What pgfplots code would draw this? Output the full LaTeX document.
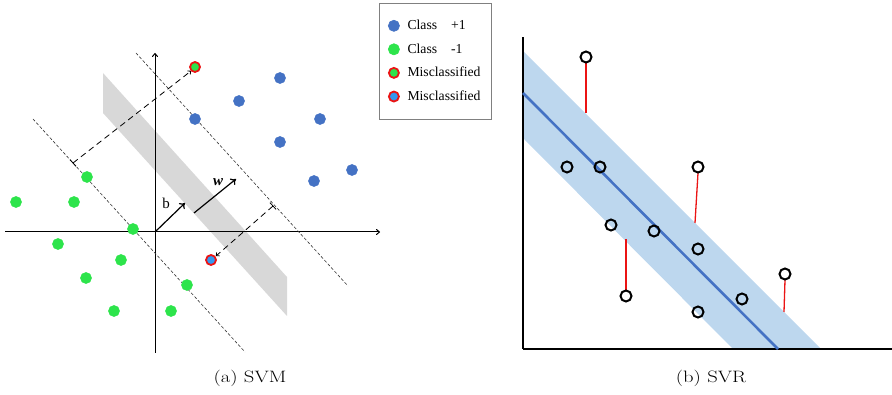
\documentclass[border=0pt]{standalone}
\usepackage{fontspec}
\usepackage{pgfplots}
\pgfplotsset{compat=1.18}
\usetikzlibrary{arrows.meta}
\newfontfamily\tnr{Liberation Serif}
\definecolor{svmblue}{RGB}{68,114,196}
\definecolor{svmgreen}{RGB}{45,228,75}
\definecolor{misblue}{RGB}{52,152,240}
\definecolor{misred}{RGB}{235,20,20}
\definecolor{bandgray}{RGB}{216,216,216}
\definecolor{svrband}{RGB}{189,215,238}
\definecolor{svrline}{RGB}{68,114,196}
\begin{document}
\begin{tikzpicture}
% ---------------- SVM ----------------
\begin{axis}[
  set layers,
  x=1pt, y=1pt,
  at={(155pt,-232pt)}, anchor=origin,
  xmin=-150, xmax=225, ymin=-121, ymax=179,
  axis lines=middle,
  xtick=\empty, ytick=\empty,
  axis line style={line width=1pt, -{To[length=4pt,width=6pt]}},
  clip=false,
  legend style={at={(axis cs:224,229)}, anchor=north west, draw=black!50,
    line width=0.6pt, font=\tnr\fontsize{13.7}{16}\selectfont,
    row sep=8.5pt, inner xsep=9pt, inner ysep=15pt,
    /tikz/every odd column/.append style={column sep=6pt}},
  legend cell align=left,
  legend image code/.code={\draw[#1] plot coordinates {(6pt,0pt)};},
]
% separating band
\addplot[on layer=axis background, forget plot, fill=bandgray, draw=none]
  coordinates {(-52,159) (132,-45) (132,-84) (-52,119)} -- cycle;
% margin lines
\addplot[forget plot, black!80, line width=0.6pt, dash pattern=on 3pt off 2pt]
  coordinates {(-19,179) (193,-54)};
\addplot[forget plot, black!80, line width=0.6pt, dash pattern=on 3pt off 2pt]
  coordinates {(-122,113) (90,-120)};
% projection lines
\addplot[forget plot, black, line width=0.8pt, dash pattern=on 6pt off 4pt, -{To[length=3pt,width=5pt]}]
  coordinates {(-82,69) (36,161)};
\addplot[forget plot, black, line width=0.8pt] coordinates {(-85,72.3) (-79,65.7)};
\addplot[forget plot, black, line width=0.8pt, dash pattern=on 6pt off 4pt, -{To[length=3pt,width=5pt]}]
  coordinates {(118,26) (61,-24)};
\addplot[forget plot, black, line width=0.8pt] coordinates {(115,29.3) (121,22.7)};
% vectors b and w
\addplot[forget plot, black, line width=1.2pt, -{To[length=5pt,width=8pt]}]
  coordinates {(0,0) (30,29)};
\addplot[forget plot, black, line width=1.2pt, -{To[length=5pt,width=8pt]}]
  coordinates {(39,19) (81,53)};
\node[font=\tnr\fontsize{15}{17}\selectfont] at (axis cs:11,29) {b};
\node[font=\tnr\fontsize{15}{17}\selectfont\bfseries\itshape] at (axis cs:63,50) {w};
% classes
\addplot[only marks, mark=*, mark size=5.6pt, mark options={draw=svmblue, fill=svmblue}]
  coordinates {(125,154) (84,131) (40,113) (165,113) (125,90) (197,62) (159,51)};
\addlegendentry{Class\hspace{14pt}+1}
\addplot[only marks, mark=*, mark size=5.6pt, mark options={draw=svmgreen, fill=svmgreen}]
  coordinates {(-68,55) (-139,30) (-81,30) (-22,3) (-97,-12) (-34,-28) (-69,-46) (32,-53) (-41,-79) (16,-79)};
\addlegendentry{Class\hspace{14pt}-1}
\addplot[only marks, mark=*, mark size=5pt, mark options={draw=misred, fill=svmgreen, line width=1.8pt}]
  coordinates {(40,165)};
\addlegendentry{Misclassified}
\addplot[only marks, mark=*, mark size=5pt, mark options={draw=misred, fill=misblue, line width=1.8pt}]
  coordinates {(56,-28)};
\addlegendentry{Misclassified}
\node[font=\fontsize{16.5}{19}\selectfont, xscale=1.25] at (axis cs:95,-146) {(a) SVM};
\end{axis}
% ---------------- SVR ----------------
\begin{axis}[
  set layers,
  x=1pt, y=1pt,
  at={(523pt,-349pt)}, anchor=origin,
  xmin=0, xmax=369, ymin=0, ymax=312,
  axis lines=left,
  xtick=\empty, ytick=\empty,
  axis line style={line width=1.4pt, -},
  clip=false,
]
\addplot[on layer=axis background, fill=svrband, draw=none]
  coordinates {(0,298) (298,0) (210,0) (0,211)} -- cycle;
\addplot[svrline, line width=2.6pt] coordinates {(0,256) (255,0)};
% residuals
\addplot[misred, line width=1.3pt] coordinates {(63,287) (63,236)};
\addplot[misred, line width=1.3pt] coordinates {(175,176) (172,126)};
\addplot[misred, line width=1.3pt] coordinates {(103,110) (103,59)};
\addplot[misred, line width=1.3pt] coordinates {(262,69) (261,37)};
% points
\addplot[only marks, mark=o, mark size=5.5pt, mark options={draw=black, fill=white, line width=2pt}]
  coordinates {(63,292) (44,182) (77,182) (175,182) (88,124) (131,118) (175,100) (262,75) (103,53) (219,50) (175,37)};
\node[font=\fontsize{16.5}{19}\selectfont, xscale=1.25] at (axis cs:188,-29) {(b) SVR};
\end{axis}
\pgfresetboundingbox
\path[use as bounding box] (0,0) rectangle (892pt,-395pt);
\end{tikzpicture}
\end{document}
